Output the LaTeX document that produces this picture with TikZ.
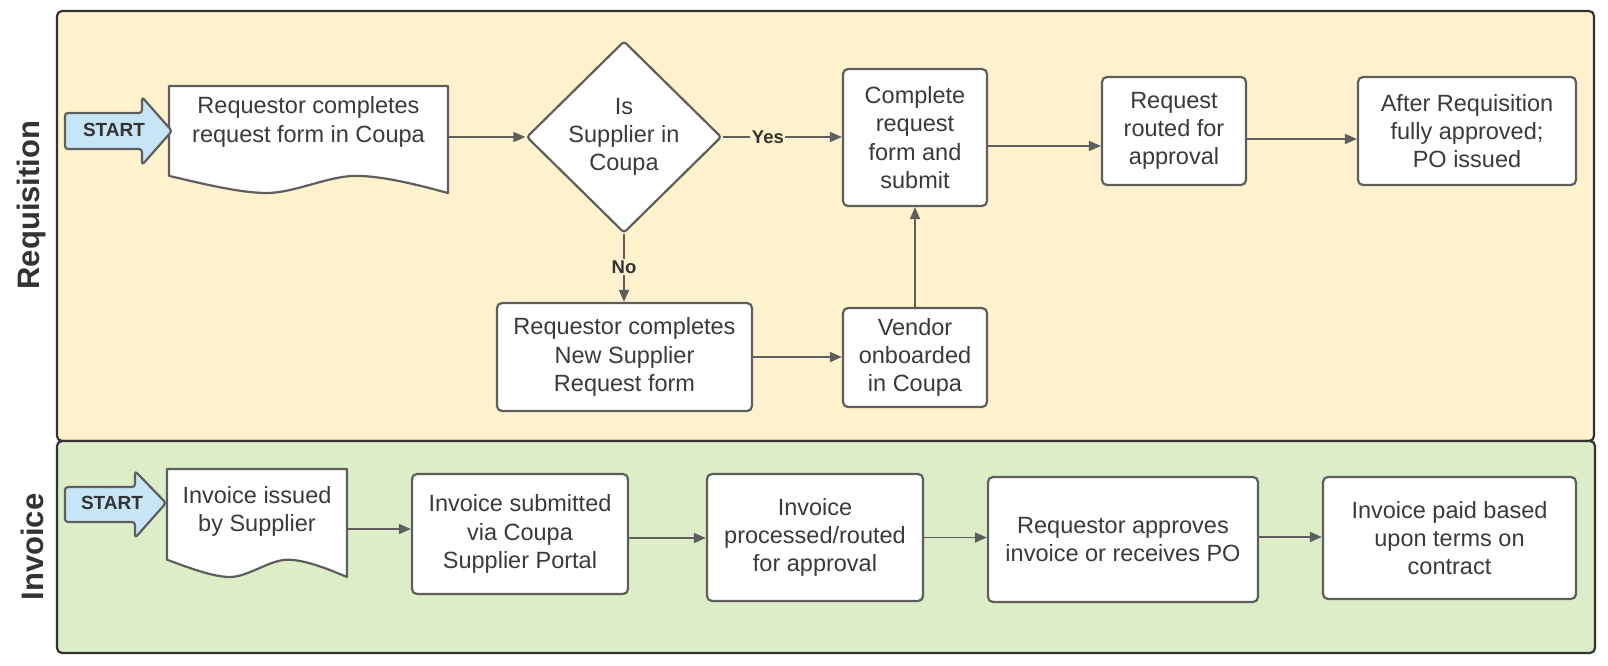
\documentclass[tikz,border=0pt]{standalone}
\usepackage{fontspec}
\setmainfont{Liberation Sans}
\usetikzlibrary{shapes.geometric,arrows.meta,calc}
\definecolor{reqfill}{HTML}{FFF2CC}
\definecolor{invfill}{HTML}{DCEDC8}
\definecolor{startfill}{HTML}{C6E5F6}
\definecolor{edgegray}{HTML}{5E5E5E}
\definecolor{txtgray}{HTML}{3A3A3A}
\definecolor{lanegray}{HTML}{333333}
\newcommand\mydocshape[4]{%
  \draw[docline] (#1,{#2+0.84*#4}) -- (#1,#2) -- ({#1+#3},#2) -- ({#1+#3},{#2+#4})
    .. controls ({#1+0.9*#3},{#2+0.93*#4}) and ({#1+0.77*#3},{#2+0.84*#4}) .. ({#1+0.67*#3},{#2+0.84*#4})
    .. controls ({#1+0.57*#3},{#2+0.84*#4}) and ({#1+0.45*#3},{#2+#4}) .. ({#1+0.35*#3},{#2+#4})
    .. controls ({#1+0.25*#3},{#2+#4}) and ({#1+0.1*#3},{#2+0.9*#4}) .. cycle;}
\begin{document}
\begin{tikzpicture}[x=1pt,y=-1pt,
  lanebox/.style={draw=lanegray, line width=2.2pt, rounded corners=5pt, inner sep=0pt},
  lanelabel/.style={rotate=90, text=lanegray, font=\fontsize{31}{36}\selectfont\bfseries},
  box/.style={draw=edgegray, line width=2.2pt, fill=white, rounded corners=5pt, inner sep=0pt, align=center, text=txtgray, font=\fontsize{23.5}{28.3}\selectfont},
  txtnode/.style={inner sep=0pt, align=center, text=txtgray, font=\fontsize{23.5}{28.3}\selectfont},
  docline/.style={draw=edgegray, line width=2.2pt, fill=white, line join=round},
  ghost/.style={draw=none, inner sep=0pt},
  startline/.style={draw=edgegray, line width=2.2pt, fill=startfill, rounded corners=3pt, line join=round},
  starttxt/.style={inner sep=0pt, text=lanegray, font=\fontsize{19}{22}\selectfont\bfseries},
  decision/.style={diamond, draw=edgegray, line width=2.2pt, fill=white, rounded corners=3pt, inner sep=0pt, align=center, text=txtgray, font=\fontsize{23.5}{28.3}\selectfont},
  arr/.style={draw=edgegray, line width=1.6pt, -{Triangle[length=12pt,width=10pt]}},
  lbl/.style={inner sep=1.5pt, text=lanegray, font=\fontsize{18.5}{22}\selectfont\bfseries}
]
\useasboundingbox (0,0) rectangle (1608,666);

% lanes
\node[lanebox, fill=reqfill, minimum width=1537pt, minimum height=430pt] (reqlane) at (825.5,226) {};
\node[lanebox, fill=invfill, minimum width=1538pt, minimum height=212pt] (invlane) at (826,547) {};
\node[lanelabel] (reqlabel) at (31,205) {Requisition};
\node[lanelabel] (invlabel) at (32,547) {Invoice};

% ---- Requisition lane ----
\mydocshape{169}{86}{279}{107}
\node[ghost, minimum width=279pt, minimum height=107pt] (doc1) at (308.5,139.5) {};
\node[txtnode] (doc1t) at (308.5,122) {Requestor completes\\request form in Coupa};

\draw[startline] (65,113) -- (142,113) -- (142,97) -- (172,131) -- (142,165) -- (142,149) -- (65,149) -- cycle;
\node[starttxt] (startA) at (114,130) {START};

\node[decision, minimum width=195pt, minimum height=192pt] (dia) at (624,137) {Is\\Supplier in\\Coupa};
\node[box, minimum width=144pt, minimum height=137pt] (comp) at (915,137.5) {Complete\\request\\form and\\submit};
\node[box, minimum width=144pt, minimum height=108pt] (routed) at (1174,131) {Request\\routed for\\approval};
\node[box, minimum width=218pt, minimum height=108pt] (after) at (1467,131) {After Requisition\\fully approved;\\PO issued};
\node[box, minimum width=255pt, minimum height=108pt] (newsup) at (624.5,357) {Requestor completes\\New Supplier\\Request form};
\node[box, minimum width=144pt, minimum height=99pt] (vendor) at (915,357.5) {Vendor\\onboarded\\in Coupa};

\draw[arr] (doc1.east |- dia.west) -- (dia.west);
\draw[arr] (dia.east) -- node[lbl, fill=reqfill, pos=0.38] {Yes} (dia.east -| comp.west);
\draw[arr] (dia.south) -- node[lbl, fill=reqfill, pos=0.49] {No} (dia.south |- newsup.north);
\draw[arr] (newsup.east) -- (newsup.east -| vendor.west);
\draw[arr] (vendor.north) -- (comp.south);
\coordinate (c1) at ($(comp.east)+(0,8.5)$);
\draw[arr] (c1) -- (c1 -| routed.west);
\coordinate (c2) at ($(routed.east)+(0,8)$);
\draw[arr] (c2) -- (c2 -| after.west);

% ---- Invoice lane ----
\mydocshape{167}{469}{180}{108}
\node[ghost, minimum width=180pt, minimum height=108pt] (doc2) at (257,523) {};
\node[txtnode] (doc2t) at (257,511.5) {Invoice issued\\by Supplier};

\draw[startline] (65,487) -- (135,487) -- (135,471) -- (166,503) -- (135,538) -- (135,522) -- (65,522) -- cycle;
\node[starttxt] (startB) at (112,503) {START};

\node[box, minimum width=216pt, minimum height=120pt] (invsub) at (520,534) {Invoice submitted\\via Coupa\\Supplier Portal};
\node[box, minimum width=216pt, minimum height=127pt] (invproc) at (815,537.5) {Invoice\\processed/routed\\for approval};
\node[box, minimum width=270pt, minimum height=125pt] (reqapp) at (1123,539.5) {Requestor approves\\invoice or receives PO};
\node[box, minimum width=253pt, minimum height=122pt] (paid) at (1449.5,538) {Invoice paid based\\upon terms on\\contract};

\coordinate (c3) at ($(doc2.east)+(0,6)$);
\draw[arr] (c3) -- (c3 -| invsub.west);
\coordinate (c4) at ($(invsub.east)+(0,4)$);
\draw[arr] (c4) -- (c4 -| invproc.west);
\draw[arr] (invproc.east) -- (invproc.east -| reqapp.west);
\coordinate (c5) at ($(reqapp.east)+(0,-2.5)$);
\draw[arr] (c5) -- (c5 -| paid.west);
\end{tikzpicture}
\end{document}
